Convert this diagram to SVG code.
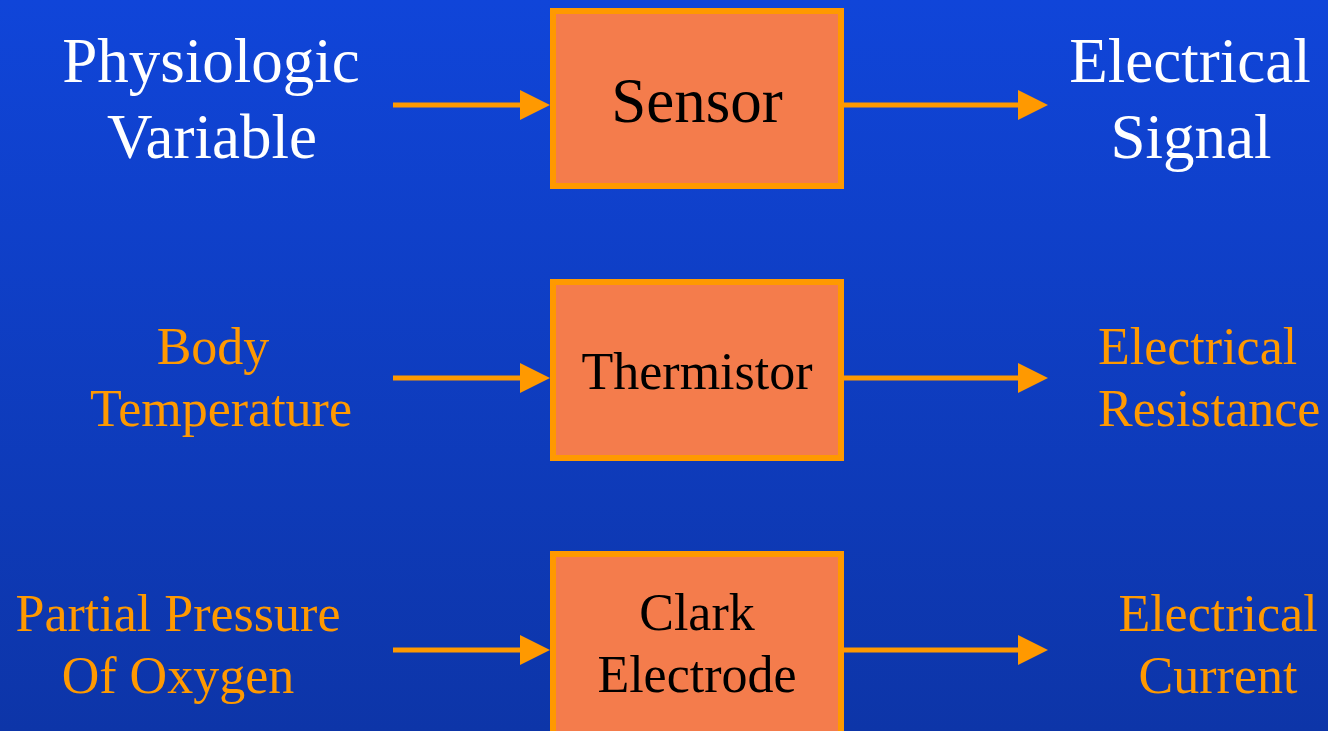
<svg xmlns="http://www.w3.org/2000/svg" width="1328" height="731" viewBox="0 0 1328 731">
<defs>
<linearGradient id="bg" x1="0" y1="0" x2="0" y2="1">
<stop offset="0" stop-color="#1045D9"/>
<stop offset="1" stop-color="#0D35A8"/>
</linearGradient>
<marker id="ah" markerUnits="userSpaceOnUse" markerWidth="32" markerHeight="32" refX="20" refY="15" orient="auto">
<path d="M0,0 L30,15 L0,30 Z" fill="#FF9900"/>
</marker>
<style>
.box{fill:#F47C4C;stroke:#FF9900;stroke-width:6}
.t{font-family:"Liberation Serif","Times New Roman",serif;text-anchor:middle}
.w{fill:#FFFFFF;font-size:63px}
.o{fill:#FF9900;font-size:52px}
.k{fill:#000000}
.conn line{stroke:#FF9900;stroke-width:5;marker-end:url(#ah)}
</style>
</defs>
<rect width="1328" height="731" fill="url(#bg)"/>
<g id="connectors" class="conn">
<line x1="393" y1="105" x2="540" y2="105"/>
<line x1="844" y1="105" x2="1038" y2="105"/>
<line x1="393" y1="378" x2="540" y2="378"/>
<line x1="844" y1="378" x2="1038" y2="378"/>
<line x1="393" y1="650" x2="540" y2="650"/>
<line x1="844" y1="650" x2="1038" y2="650"/>
</g>
<g id="physiologic-variable">
<text class="t w" x="211" y="82">Physiologic</text>
<text class="t w" x="212" y="158">Variable</text>
</g>
<g id="sensor">
<rect class="box" x="553" y="11" width="288" height="175"/>
<text class="t k" x="697" y="122" font-size="63">Sensor</text>
</g>
<g id="electrical-signal">
<text class="t w" x="1190" y="82">Electrical</text>
<text class="t w" x="1191" y="158">Signal</text>
</g>
<g id="body-temperature">
<text class="t o" x="213" y="364">Body</text>
<text class="t o" x="221" y="426">Temperature</text>
</g>
<g id="thermistor">
<rect class="box" x="553" y="282" width="288" height="176"/>
<text class="t k" x="697" y="389" font-size="52">Thermistor</text>
</g>
<g id="electrical-resistance">
<text class="t o" x="1098" y="364" style="text-anchor:start">Electrical</text>
<text class="t o" x="1098" y="426" style="text-anchor:start">Resistance</text>
</g>
<g id="partial-pressure">
<text class="t o" x="178" y="631">Partial Pressure</text>
<text class="t o" x="178" y="693">Of Oxygen</text>
</g>
<g id="clark-electrode">
<rect class="box" x="553" y="554" width="288" height="190"/>
<text class="t k" x="697" y="630" font-size="52">Clark</text>
<text class="t k" x="697" y="692" font-size="52">Electrode</text>
</g>
<g id="electrical-current">
<text class="t o" x="1218" y="631">Electrical</text>
<text class="t o" x="1218" y="693">Current</text>
</g>
</svg>
